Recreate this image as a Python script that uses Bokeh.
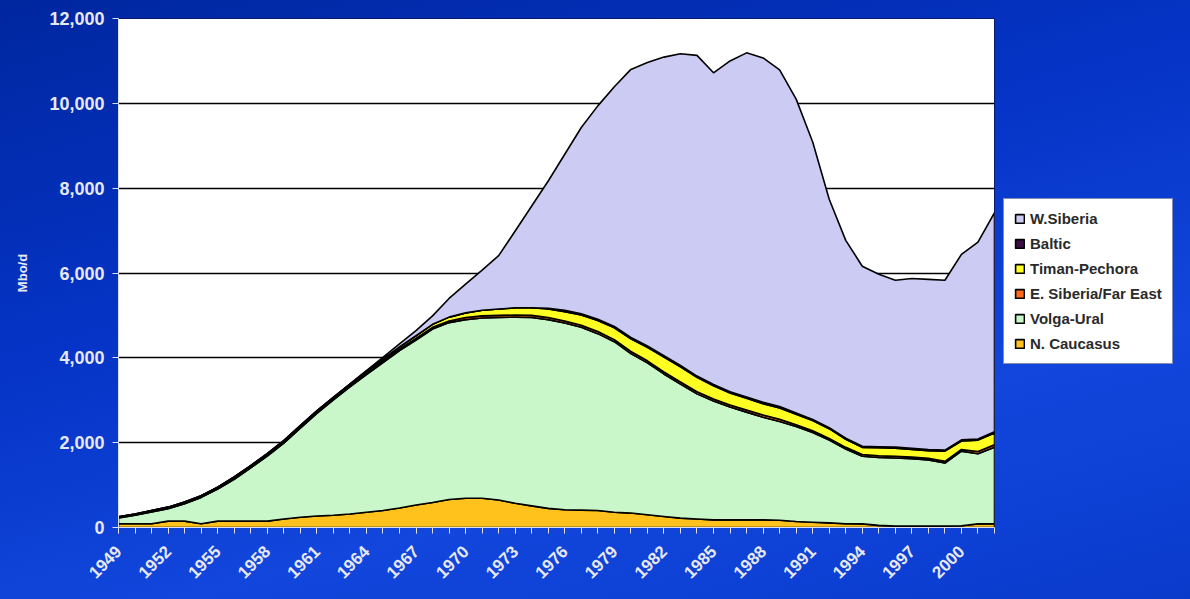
import numpy as np
from math import pi
from bokeh.plotting import figure
from bokeh.models import Range1d, FixedTicker, NumeralTickFormatter, Legend, LegendItem
from bokeh.embed import file_html
from bokeh.resources import INLINE

# ---------------- data (Mbo/d) ----------------
years = list(range(1949, 2003))

n_caucasus = [90, 90, 90, 150, 150, 90, 150, 150, 150, 150,
              200, 240, 270, 290, 320, 360, 400, 460, 530, 590,
              660, 690, 690, 650, 570, 510, 450, 420, 410, 400,
              360, 340, 300, 260, 220, 200, 180, 180, 180, 180,
              170, 140, 125, 110, 90, 85, 50, 35, 35, 35,
              35, 40, 85, 90]

volga_ural = [135, 200, 275, 295, 410, 620, 755, 985, 1255, 1535,
              1790, 2100, 2420, 2720, 2995, 3245, 3485, 3710, 3890, 4090,
              4170, 4210, 4250, 4300, 4390, 4440, 4450, 4400, 4310, 4170,
              4020, 3760, 3580, 3360, 3160, 2950, 2800, 2660, 2540, 2420,
              2330, 2240, 2115, 1950, 1760, 1595, 1600, 1605, 1585, 1555,
              1485, 1760, 1655, 1800]

e_siberia = [15, 15, 15, 15, 15, 15, 15, 25, 25, 25,
             25, 25, 25, 25, 25, 40, 40, 40, 40, 40,
             40, 50, 50, 50, 50, 50, 50, 50, 50, 50,
             50, 50, 50, 50, 50, 50, 50, 50, 50, 50,
             50, 40, 40, 40, 40, 40, 40, 40, 40, 40,
             40, 40, 50, 60]

timan_pechora = [10, 15, 20, 20, 25, 25, 30, 30, 30, 30,
                 35, 35, 35, 35, 40, 40, 45, 50, 60, 70,
                 90, 110, 130, 150, 170, 180, 200, 220, 240, 260,
                 280, 300, 320, 350, 360, 340, 310, 280, 275, 270,
                 270, 250, 240, 230, 190, 170, 190, 190, 180, 180,
                 240, 200, 270, 280]

baltic = [0, 0, 0, 0, 0, 0, 0, 0, 0, 0,
          0, 0, 0, 0, 0, 0, 0, 0, 0, 0,
          0, 0, 0, 0, 0, 0, 20, 30, 30, 30,
          30, 30, 30, 30, 30, 30, 30, 30, 30, 30,
          30, 30, 25, 25, 25, 25, 25, 25, 25, 25,
          25, 25, 25, 25]

w_siberia = [0, 0, 0, 0, 0, 0, 0, 0, 0, 0,
             0, 0, 0, 0, 0, 15, 40, 70, 120, 200,
             440, 680, 950, 1260, 1810, 2400, 3000, 3680, 4390, 5030,
             5650, 6320, 6680, 7040, 7350, 7560, 7350, 7800, 8115, 8120,
             7940, 7400, 6545, 5385, 4665, 4245, 4065, 3935, 4005, 4015,
             4005, 4375, 4645, 5165]

tick_years = [1949, 1952, 1955, 1958, 1961, 1964, 1967, 1970, 1973,
              1976, 1979, 1982, 1985, 1988, 1991, 1994, 1997, 2000]
tick_labels = ["1949", "1952", "1955", "1958", "1961", "1964", "1967", "1970", "1973",
               "1976", "1979", "1982", "1985", "1988", "1991", "1994", "1997", "2000"]
y_ticks = [0, 2000, 4000, 6000, 8000, 10000, 12000]

series = [
    ("N. Caucasus", n_caucasus, "#FFC21C"),
    ("Volga-Ural", volga_ural, "#C9F7C9"),
    ("E. Siberia/Far East", e_siberia, "#FF6A1A"),
    ("Timan-Pechora", timan_pechora, "#FFFF22"),
    ("Baltic", baltic, "#3B0F40"),
    ("W.Siberia", w_siberia, "#CBCBF3"),
]

# ---------------- figure ----------------
p = figure(frame_width=876, frame_height=509, output_backend="svg", toolbar_location=None,
           x_range=Range1d(1949, 2002), y_range=Range1d(0, 12000),
           min_border_left=118, min_border_right=196, min_border_top=18,
           min_border_bottom=72)
p.styles = {"background": "linear-gradient(165deg, #0027a0 0%, #0534c6 35%, #1246dc 62%, #0c3ed2 80%, #0634bc 100%)"}
p.border_fill_alpha = 0
p.background_fill_color = "white"
p.outline_line_color = "#0a1a6a"
p.outline_line_width = 1

xs = np.array(years, dtype=float)
bottom = np.zeros(len(years))
renderers = {}
for name, vals, color in series:
    top = bottom + np.array(vals, dtype=float)
    px = np.concatenate([xs, xs[::-1]])
    py = np.concatenate([top, bottom[::-1]])
    r = p.patch(px, py, fill_color=color, line_color="black", line_width=1.6)
    renderers[name] = r
    bottom = top

# grid
p.xgrid.visible = False
p.ygrid.grid_line_color = "black"
p.ygrid.grid_line_width = 1.5
p.ygrid.ticker = FixedTicker(ticks=y_ticks)

label_color = "#E6E8F2"
font = "Liberation Sans"

# y axis
p.yaxis.ticker = FixedTicker(ticks=y_ticks)
p.yaxis.formatter = NumeralTickFormatter(format="0,0")
p.yaxis.axis_label = "Mbo/d"
p.yaxis.axis_label_text_color = label_color
p.yaxis.axis_label_text_font = font
p.yaxis.axis_label_text_font_style = "bold"
p.yaxis.axis_label_text_font_size = "13px"
p.yaxis.axis_label_standoff = 16
p.yaxis.major_label_text_color = label_color
p.yaxis.major_label_text_font = font
p.yaxis.major_label_text_font_style = "bold"
p.yaxis.major_label_text_font_size = "18px"
p.yaxis.major_label_standoff = 8
p.yaxis.axis_line_color = "#DDE0F0"
p.yaxis.major_tick_line_color = "#DDE0F0"
p.yaxis.major_tick_out = 6
p.yaxis.major_tick_in = 0
p.yaxis.minor_tick_line_color = None

# x axis
p.xaxis.ticker = FixedTicker(ticks=tick_years, minor_ticks=years)
p.xaxis.major_label_overrides = {y: l for y, l in zip(tick_years, tick_labels)}
p.xaxis.major_label_orientation = pi / 4
p.xaxis.major_label_text_color = label_color
p.xaxis.major_label_text_font = font
p.xaxis.major_label_text_font_style = "bold"
p.xaxis.major_label_text_font_size = "17px"
p.xaxis.major_label_standoff = 15
p.xaxis.axis_line_color = "#DDE0F0"
p.xaxis.major_tick_line_color = "#DDE0F0"
p.xaxis.minor_tick_line_color = "#DDE0F0"
p.xaxis.major_tick_out = 6
p.xaxis.major_tick_in = 0
p.xaxis.minor_tick_out = 6
p.xaxis.minor_tick_in = 0

# legend (top series first), in a side panel right of the plot area
items = [LegendItem(label=name, renderers=[renderers[name]]) for name, _, _ in reversed(series)]
legend = Legend(items=items, location=(9, 163), orientation="vertical")
legend.background_fill_color = "white"
legend.background_fill_alpha = 1
legend.border_line_color = "#0a1a6a"
legend.border_line_width = 1.5
legend.label_text_font = font
legend.label_text_font_style = "bold"
legend.label_text_font_size = "15px"
legend.label_text_color = "#2a2a2a"
legend.glyph_width = 11
legend.glyph_height = 11
legend.label_height = 19
legend.label_standoff = 5
legend.spacing = 6
legend.padding = 10
legend.margin = 0
p.add_layout(legend, "right")

open("out.html", "w").write(file_html(p, INLINE))
